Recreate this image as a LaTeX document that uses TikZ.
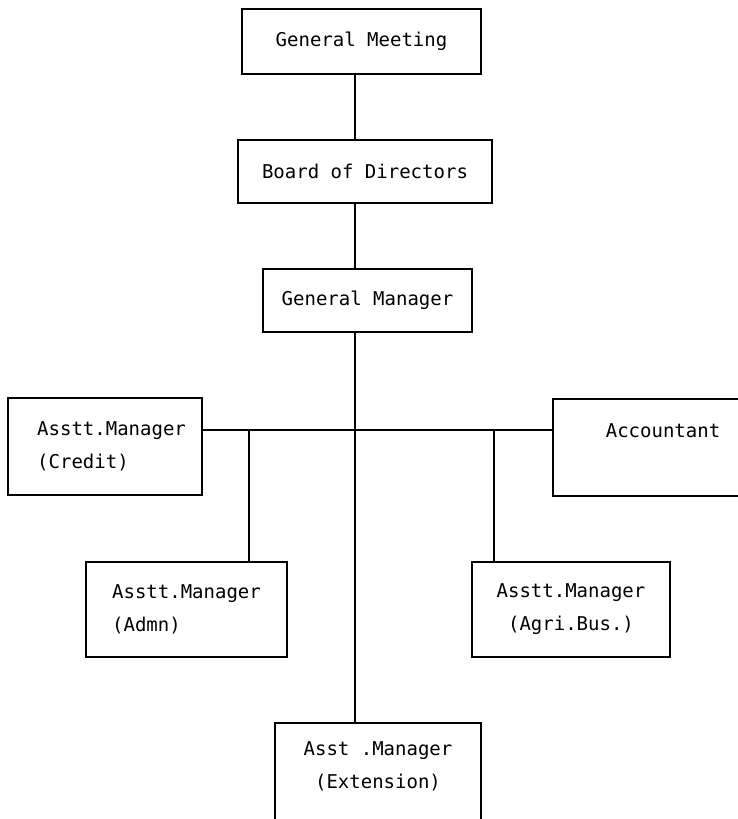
\documentclass[tikz,border=0pt]{standalone}
\usepackage{fontspec}
\newfontfamily\typefont{DejaVu Sans Mono}
\begin{document}
\begin{tikzpicture}[x=1bp,y=-1bp,
  every node/.style={font=\typefont\fontsize{19bp}{33bp}\selectfont},
  post/.style={draw, line width=1.3bp, inner sep=0pt},
  label text/.style={inner sep=0pt},
  spine/.style={line width=2bp},
  bus/.style={line width=1.1bp},
  drop/.style={line width=1.8bp}]
\useasboundingbox (0,0) rectangle (738,819);
\clip (0,0) rectangle (738,819);

% top of the hierarchy
\node[post, minimum width=239bp, minimum height=65bp] (gm) at (361.5,41.5) {General Meeting};
\node[post, minimum width=254bp, minimum height=63bp] (bod) at (365,171.5) {Board of Directors};
\node[post, minimum width=209bp, minimum height=63bp] (gmgr) at (367.5,300.5) {General Manager};

% assistant managers and accountant
\node[post, minimum width=194bp, minimum height=97bp] (credit) at (105,446.5) {};
\node[label text, align=left, anchor=west] (credittext) at (37,446.5)
  {Asstt.Manager\\(Credit)};
\node[post, minimum width=207bp, minimum height=97bp] (acct) at (656.5,447.5) {};
\node[label text] (accttext) at (663,431) {Accountant};
\node[post, minimum width=201bp, minimum height=95bp, align=left] (admn) at (186.5,609.5)
  {Asstt.Manager\\(Admn)};
\node[post, minimum width=198bp, minimum height=95bp, align=center] (agri) at (571,609.5)
  {Asstt.Manager\\(Agri.Bus.)};
\node[post, minimum width=206bp, minimum height=140bp] (ext) at (378,793) {};
\node[label text, align=center] (exttext) at (378,766) {Asst .Manager\\(Extension)};

% line of authority
\coordinate (spinex) at (355,0);
\coordinate (busy) at (0,430);
\coordinate (dropl) at (249,430);
\coordinate (dropr) at (494,430);

\draw[spine] (gm.south -| spinex) -- (bod.north -| spinex);
\draw[spine] (bod.south -| spinex) -- (gmgr.north -| spinex);
\draw[spine] (gmgr.south -| spinex) -- (ext.north -| spinex);
\draw[bus] (credit.east |- busy) -- (acct.west |- busy);
\draw[drop] (dropl) -- (admn.north -| dropl);
\draw[drop] (dropr) -- (agri.north -| dropr);
\end{tikzpicture}
\end{document}
